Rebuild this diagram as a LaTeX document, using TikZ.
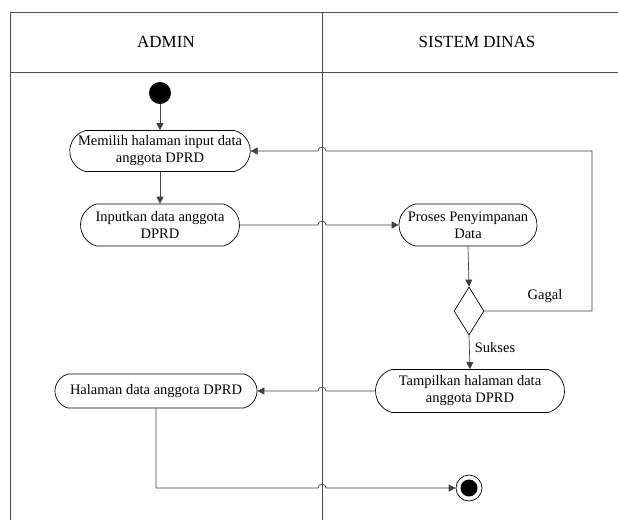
\documentclass[tikz,border=0pt]{standalone}
\usepackage{fontspec}
\setmainfont{Liberation Serif}
\usetikzlibrary{arrows.meta,shapes.geometric,shapes.misc}
\tikzset{
  lane/.style={draw=black!70,line width=0.8pt},
  activity/.style={draw,rounded rectangle,rounded rectangle arc length=150,align=center,inner sep=2pt,
    line width=0.7pt,font=\fontsize{14.5}{17}\selectfont},
  flow/.style={draw=black!75,line width=0.7pt,-{Triangle[length=7pt,width=7pt]}},
  lbl/.style={font=\fontsize{14.5}{17}\selectfont},
}
\begin{document}
\begin{tikzpicture}[x=1pt,y=-1pt]
        \useasboundingbox (0,0) rectangle (618,520);
        % swimlanes
        \draw[lane] (10,520) -- (10,12) -- (618,12);
        \draw[lane] (10,72) -- (618,72);
        \draw[lane] (322,12) -- (322,520);
        \node[font=\fontsize{17}{20}\selectfont] (hadmin) at (166,42) {ADMIN};
        \node[font=\fontsize{17}{20}\selectfont] (hsistem) at (477,42) {SISTEM DINAS};
        % activities
        \fill (160,93) circle (11) coordinate (start);
        \node[activity,minimum width=178pt,minimum height=41pt] (pilih) at (160,151) {Memilih halaman input data\\anggota DPRD};
        \node[activity,minimum width=163pt,minimum height=42pt] (input) at (160,225) {Inputkan data anggota\\DPRD};
        \node[activity,minimum width=142pt,minimum height=42pt] (proses) at (468,225) {Proses Penyimpanan\\Data};
        \node[draw,diamond,line width=0.7pt,minimum width=30pt,minimum height=48pt,inner sep=0pt] (cek) at (469,311) {};
        \node[activity,minimum width=193pt,minimum height=43pt] (tampil) at (470,391) {Tampilkan halaman data\\anggota DPRD};
        \node[activity,minimum width=206pt,minimum height=34pt] (halaman) at (156,391) {Halaman data anggota DPRD};
        \node[draw,circle,line width=0.7pt,minimum size=26pt,inner sep=0pt] (akhir) at (469,488) {};
        \fill (akhir.center) circle (8.5);
        \node[lbl] (gagal) at (545,296) {Gagal};
        \node[lbl] (sukses) at (495,348) {Sukses};
        % flows
        \draw[flow] (160,104) -- (pilih.north);
        \draw[flow] (pilih.south) -- (input.north);
        \draw[flow] (input.east) -- (318,225) arc[start angle=180,end angle=0,radius=4pt] -- (proses.west);
        \draw[flow] (proses.south) -- (cek.north);
        \draw[flow] (cek.east) -- (592,311) -- (592,151) -- (326,151) arc[start angle=0,end angle=180,radius=4pt] -- (pilih.east);
        \draw[flow] (cek.south) -- (tampil.north);
        \draw[flow] (tampil.west) -- (326,391) arc[start angle=0,end angle=180,radius=4pt] -- (halaman.east);
        \draw[flow] (halaman.south) -- (156,488) -- (318,488) arc[start angle=180,end angle=0,radius=4pt] -- (akhir.west);
\end{tikzpicture}
\end{document}
